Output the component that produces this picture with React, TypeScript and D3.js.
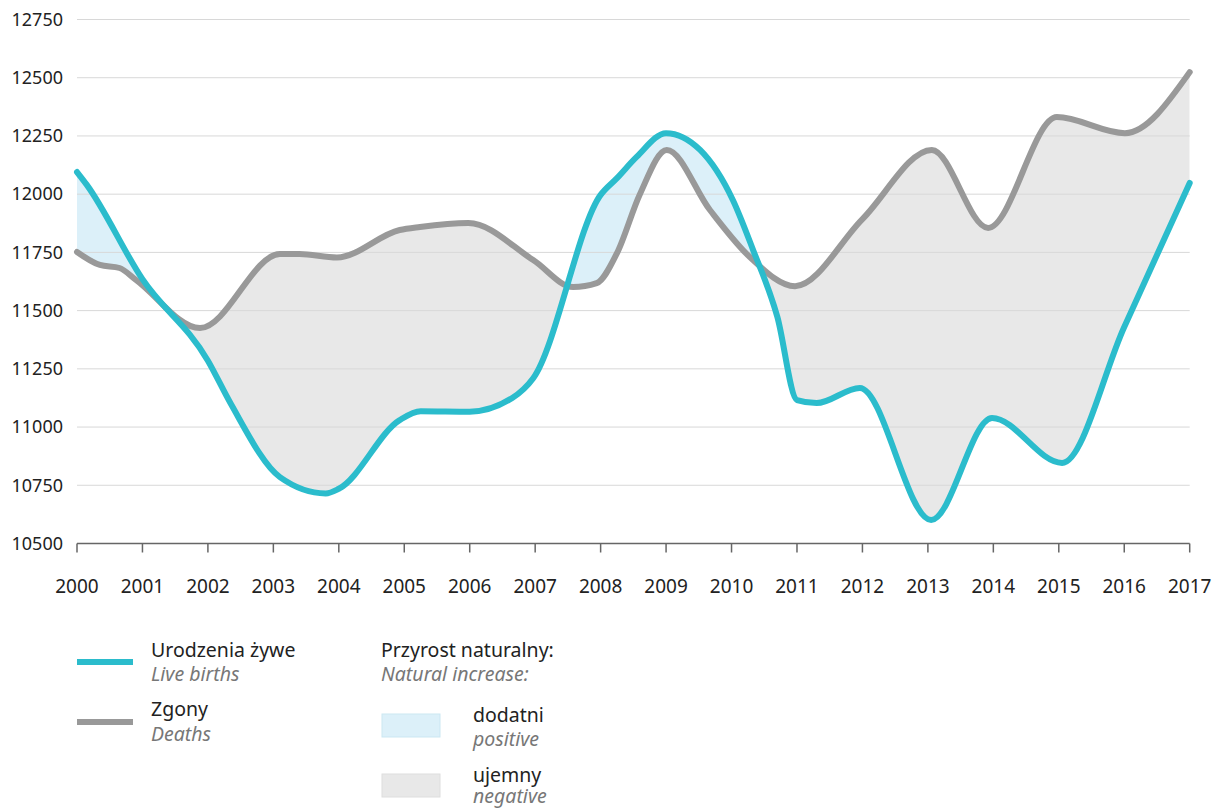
import React from "react";
import * as d3 from "d3";

// Live births (Urodzenia żywe)
const birthsYears = [2000, 2000.15, 2001, 2002, 2002.35, 2003.1, 2003.8, 2004, 2004.93, 2005.25, 2006, 2006.65, 2006.97, 2008, 2008.25, 2008.55, 2009, 2009.52, 2010.02, 2010.33, 2010.7, 2011, 2011.3, 2011.96, 2013.05, 2013.98, 2015.05, 2016, 2017];
const birthsValues = [12095, 12040, 11635, 11285, 11100, 10785, 10715, 10735, 11030, 11068, 11066, 11125, 11210, 11997, 12069, 12160, 12262, 12190, 11975, 11760, 11473, 11116, 11103, 11168, 10601, 11039, 10846, 11430, 12048];

// Deaths (Zgony)
const deathsYears = [2000, 2000.35, 2000.65, 2000.9, 2001.88, 2003.1, 2003.4, 2003.97, 2004.93, 2005.24, 2005.98, 2006.97, 2007.58, 2007.94, 2008.25, 2008.6, 2009.01, 2009.67, 2010.28, 2010.97, 2012, 2013.06, 2013.92, 2014.97, 2016.01, 2017];
const deathsValues = [11752, 11696, 11683, 11632, 11425, 11743, 11743, 11728, 11846, 11859, 11876, 11717, 11601, 11618, 11747, 12000, 12190, 11932, 11730, 11605, 11893, 12190, 11855, 12331, 12262, 12524];

const xTicks = d3.range(2000, 2018);
const yTicks = [10500, 10750, 11000, 11250, 11500, 11750, 12000, 12250, 12500, 12750];

const CYAN = "#2bbccc";
const GRAY = "#999999";
const POS = "#dcf0f9";
const NEG = "#e8e8e8";
const FONT = "'Noto Sans', 'Open Sans', sans-serif";

type P = [number, number];

export default function App() {
  const x = d3.scaleLinear().domain([2000, 2017]).range([77, 1189.7]);
  const y = d3.scaleLinear().domain([10500, 12750]).range([543.5, 19.5]);
  const top = y(12750) - 40;
  const bottom = y(10500);

  const births: P[] = birthsYears.map((t, i) => [t, birthsValues[i]]);
  const deaths: P[] = deathsYears.map((t, i) => [t, deathsValues[i]]);

  const curve = d3.curveMonotoneX;
  const line = d3.line<P>().x(d => x(d[0])).y(d => y(d[1])).curve(curve);
  const areaBelow = d3.area<P>().x(d => x(d[0])).y1(d => y(d[1])).y0(bottom).curve(curve);
  const areaAbove = d3.area<P>().x(d => x(d[0])).y1(d => y(d[1])).y0(top).curve(curve);

  return (
    <svg width={1213} height={808} style={{ position: "absolute", left: 0, top: 0, background: "#fff" }} fontFamily={FONT}>
      <defs>
        <clipPath id="belowBirths"><path d={areaBelow(births) || ""} /></clipPath>
        <clipPath id="belowDeaths"><path d={areaBelow(deaths) || ""} /></clipPath>
      </defs>
      {/* positive natural increase: births above deaths */}
      <path d={areaAbove(deaths) || ""} fill={POS} clipPath="url(#belowBirths)" />
      {/* negative natural increase: deaths above births */}
      <path d={areaAbove(births) || ""} fill={NEG} clipPath="url(#belowDeaths)" />

      {yTicks.filter(v => v > 10500).map(v => (
        <line key={v} x1={x(2000)} x2={x(2017)} y1={y(v)} y2={y(v)} stroke="#d8d8d8" strokeWidth={1} />
      ))}
      {yTicks.map(v => (
        <text key={v} x={63} y={y(v)} dy="0.35em" textAnchor="end" fontSize={18} fill="#222">{v}</text>
      ))}

      <line x1={x(2000)} x2={x(2017)} y1={bottom} y2={bottom} stroke="#666" strokeWidth={1.5} />
      {xTicks.map(t => (
        <g key={t}>
          <line x1={x(t)} x2={x(t)} y1={bottom} y2={bottom + 9} stroke="#666" strokeWidth={1.5} />
          <text x={x(t)} y={593} textAnchor="middle" fontSize={19} fill="#222">{t}</text>
        </g>
      ))}

      <path d={line(deaths) || ""} fill="none" stroke={GRAY} strokeWidth={6} strokeLinejoin="round" strokeLinecap="round" />
      <path d={line(births) || ""} fill="none" stroke={CYAN} strokeWidth={6} strokeLinejoin="round" strokeLinecap="round" />

      {/* legend */}
      <g fontSize={19.5}>
        <rect x={77} y={659} width={56} height={6} fill={CYAN} />
        <text x={151} y={657} fill="#222">Urodzenia żywe</text>
        <text x={151} y={681} fill="#777" fontStyle="italic">Live births</text>

        <rect x={77} y={719} width={56} height={6} fill={GRAY} />
        <text x={151} y={716} fill="#222">Zgony</text>
        <text x={151} y={741} fill="#777" fontStyle="italic">Deaths</text>

        <text x={381} y={657} fill="#222">Przyrost naturalny:</text>
        <text x={381} y={681} fill="#777" fontStyle="italic">Natural increase:</text>

        <rect x={382} y={714} width={58} height={23} fill={POS} stroke="#cbe7f2" strokeWidth={1} />
        <text x={473} y={722} fill="#222">dodatni</text>
        <text x={473} y={746} fill="#777" fontStyle="italic">positive</text>

        <rect x={382} y={774} width={58} height={23} fill={NEG} stroke="#dedede" strokeWidth={1} />
        <text x={473} y={782} fill="#222">ujemny</text>
        <text x={473} y={803} fill="#777" fontStyle="italic">negative</text>
      </g>
    </svg>
  );
}
